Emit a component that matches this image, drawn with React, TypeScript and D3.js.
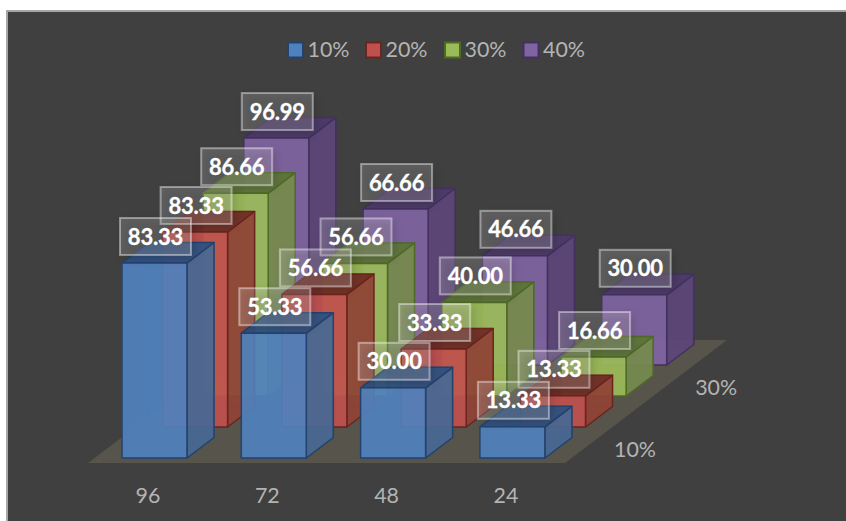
import React from "react";
import * as d3 from "d3";

const categories = ["96", "72", "48", "24"];
const seriesNames = ["10%", "20%", "30%", "40%"];
const values10 = [83.33, 53.33, 30.0, 13.33];
const values20 = [83.33, 56.66, 33.33, 13.33];
const values30 = [86.66, 56.66, 40.0, 16.66];
const values40 = [96.99, 66.66, 46.66, 30.0];
const depthTicks = ["10%", "30%"];

const seriesValues = [values10, values20, values30, values40];
const frontFill = ["#4f81bd", "#c0504d", "#9bbb59", "#8064a2"];
const sideFill = ["#486892", "#8f4336", "#758a4e", "#5c4678"];
const topFill = ["#2f5180", "#6e2c24", "#5d7537", "#4c3a68"];
const edgeStroke = ["#23426d", "#6b2420", "#4e6a27", "#43315f"];

const W = 846;
const H = 521;
const FONT = "Lato, 'Open Sans', sans-serif";
const TICK_SIZE = 21.4;

// Oblique projection of the floor: category runs along x, series runs up and to the right.
const x = d3.scaleBand<string>().domain(categories).range([122, 122 + 119.3 * 4]).paddingInner(0).paddingOuter(0);
const depthX = d3.scalePoint<string>().domain(seriesNames).range([0, 121.8]);
const depthY = d3.scalePoint<string>().domain(seriesNames).range([458, 365]);
const heightScale = d3.scaleLinear().domain([0, 100]).range([0, 234]);

const BAR_W = 65;
const SIDE_DX = 27;
const SIDE_DY = -20.5;
const BOX_W = 71;
const BOX_H = 37;

const poly = d3.line<[number, number]>();
const face = (pts: [number, number][]) => poly(pts) + "Z";

const floor: [number, number][] = [
  [88, 463],
  [565, 463],
  [727, 340],
  [250, 340],
];

const legendX = d3.scaleOrdinal<string, number>().domain(seriesNames).range([288, 366, 445, 523.5]);

function barGeom(cat: string, si: number) {
  const s = seriesNames[si];
  const ci = categories.indexOf(cat);
  const left = (x(cat) as number) + (depthX(s) as number);
  const base = depthY(s) as number;
  const v = seriesValues[si][ci];
  const top = base - heightScale(v);
  return { left, right: left + BAR_W, base, top, v };
}

function Bar({ cat, si }: { cat: string; si: number }) {
  const { left, right, base, top } = barGeom(cat, si);
  const dx = SIDE_DX;
  const dy = SIDE_DY;
  const common = { stroke: edgeStroke[si], strokeWidth: 1.5, strokeLinejoin: "round" as const };
  return (
    <g>
      {/* hidden faces, seen faintly through the translucent walls */}
      <g fillOpacity={0.08} strokeOpacity={0.25}>
        <path d={face([[left, base], [right, base], [right + dx, base + dy], [left + dx, base + dy]])} fill={frontFill[si]} {...common} />
        <path d={face([[left + dx, base + dy], [right + dx, base + dy], [right + dx, top + dy], [left + dx, top + dy]])} fill={frontFill[si]} {...common} />
      </g>
      <path d={face([[right, base], [right + dx, base + dy], [right + dx, top + dy], [right, top]])} fill={sideFill[si]} fillOpacity={0.93} {...common} />
      <path d={face([[left, top], [right, top], [right + dx, top + dy], [left + dx, top + dy]])} fill={topFill[si]} fillOpacity={0.94} {...common} />
      <path d={face([[left, base], [right, base], [right, top], [left, top]])} fill={frontFill[si]} fillOpacity={0.92} {...common} />
    </g>
  );
}

function ValueLabel({ cat, si }: { cat: string; si: number }) {
  const { left, top, v } = barGeom(cat, si);
  const cx = left + BAR_W / 2 + 1;
  const y1 = top - 8;
  return (
    <g>
      <rect x={cx - BOX_W / 2 + 3} y={y1 - BOX_H + 3} width={BOX_W} height={BOX_H} fill="#000" opacity={0.14} filter="url(#soft)" />
      <rect
        x={cx - BOX_W / 2}
        y={y1 - BOX_H}
        width={BOX_W}
        height={BOX_H}
        fill="#ffffff"
        fillOpacity={0.17}
        stroke="#ffffff"
        strokeOpacity={0.42}
        strokeWidth={2}
      />
      <text
        x={cx}
        y={y1 - 10.5}
        textAnchor="middle"
        fontFamily={FONT}
        fontWeight={700}
        fontSize={22}
        letterSpacing={-0.2}
        fill="#ffffff"
        stroke="#ffffff"
        strokeWidth={0.3}
      >
        {v.toFixed(2)}
      </text>
    </g>
  );
}

export default function App() {
  const backToFront = d3.range(seriesNames.length).reverse();
  return (
    <svg
      width={W}
      height={H}
      viewBox={`0 0 ${W} ${H}`}
      style={{ position: "fixed", left: 0, top: 0, display: "block", background: "#ffffff" }}
    >
      <defs>
        <filter id="soft" x="-30%" y="-50%" width="160%" height="200%">
          <feGaussianBlur stdDeviation="4" />
        </filter>
      </defs>
      <rect x={7} y={11} width={W} height={H} fill="#404040" stroke="#a6a6a6" strokeWidth={2} />

      {/* legend */}
      {seriesNames.map((s, i) => (
        <g key={s}>
          <rect x={legendX(s)} y={42.5} width={15} height={15} fill={frontFill[i]} stroke={edgeStroke[i]} strokeWidth={2} />
          <text x={legendX(s) + 19.5} y={56.5} fontFamily={FONT} fontSize={TICK_SIZE} fill="#b4b4b4">
            {s}
          </text>
        </g>
      ))}

      {/* floor */}
      <path d={face(floor)} fill="#57544b" />

      {/* bars, far series first */}
      {backToFront.map((si) => (
        <g key={seriesNames[si]}>
          {categories.map((c) => (
            <Bar key={c} cat={c} si={si} />
          ))}
        </g>
      ))}

      {/* category axis */}
      {categories.map((c) => (
        <text key={c} x={(x(c) as number) + BAR_W / 2 - 6.5} y={502.5} textAnchor="middle" fontFamily={FONT} fontSize={TICK_SIZE} fill="#b4b4b4">
          {c}
        </text>
      ))}

      {/* series axis */}
      {depthTicks.map((s) => (
        <text
          key={s}
          x={614 + (depthX(s) as number)}
          y={(depthY(s) as number) - 1}
          fontFamily={FONT}
          fontSize={TICK_SIZE}
          fill="#b4b4b4"
        >
          {s}
        </text>
      ))}

      {/* value labels */}
      {backToFront.map((si) => (
        <g key={seriesNames[si]}>
          {categories.map((c) => (
            <ValueLabel key={c} cat={c} si={si} />
          ))}
        </g>
      ))}
    </svg>
  );
}
